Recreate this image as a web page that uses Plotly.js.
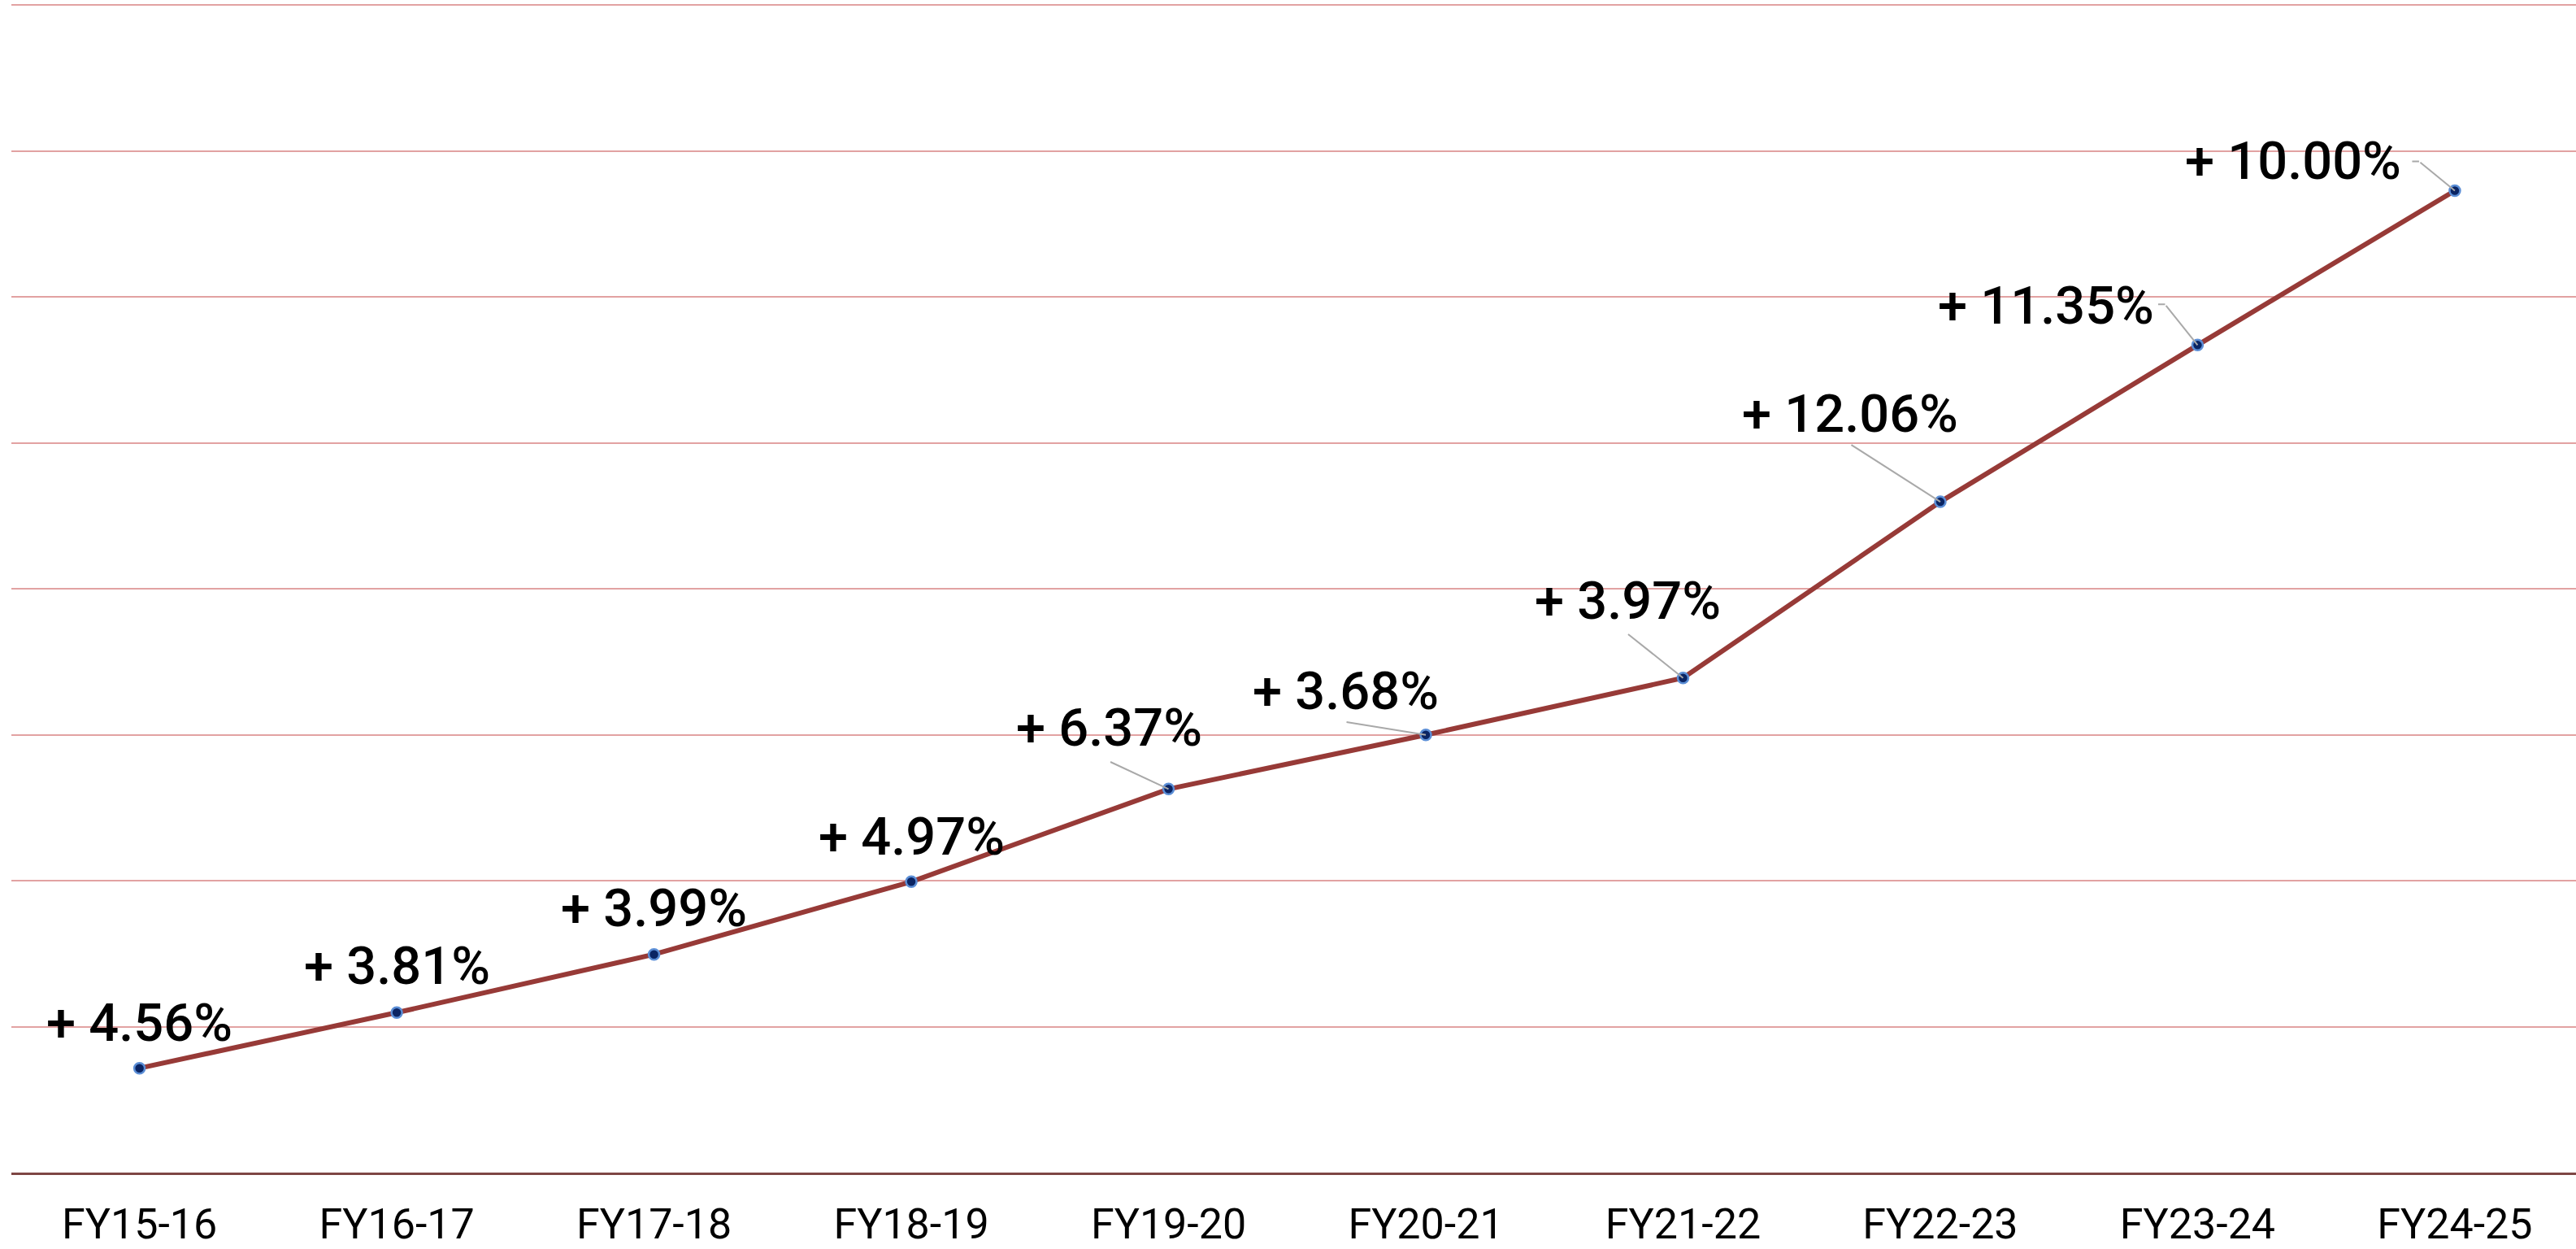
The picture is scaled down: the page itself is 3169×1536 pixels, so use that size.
<!DOCTYPE html>
<html>
<head>
<meta charset="utf-8">
<script src="https://cdn.plot.ly/plotly-3.0.1.min.js"></script>
<style>
  html, body { margin: 0; padding: 0; background: #ffffff; }
  #chart { width: 3169px; height: 1536px; }
</style>
</head>
<body>
<div id="chart"></div>
<script>
// Categories (fiscal years)
const years = ["FY15-16", "FY16-17", "FY17-18", "FY18-19", "FY19-20",
               "FY20-21", "FY21-22", "FY22-23", "FY23-24", "FY24-25"];
// Plotted level, in gridline units
const levels = [0.715, 1.096, 1.495, 1.993, 2.628, 2.999, 3.389, 4.596, 5.670, 6.728];
// Growth labels
const growthLabels = ["+ 4.56%", "+ 3.81%", "+ 3.99%", "+ 4.97%", "+ 6.37%",
                      "+ 3.68%", "+ 3.97%", "+ 12.06%", "+ 11.35%", "+ 10.00%"];

// label centre offsets (pixels) relative to the point
const labelDX = [0, 0, 0, 0, -73, -99, -68, -111, -186, -199];
const labelDY = [-56, -57, -57, -55, -75, -54, -95, -108, -48, -36];
// leader line start offsets (pixels) relative to the point; null = no leader
const leadDX = [null, null, null, null, -73, -99, -69, -111, -40, -44];
const leadDY = [null, null, null, null, -34, -16, -55, -71, -50, -36];
// short horizontal elbow length before the leader (pixels)
const elbowLen = [0, 0, 0, 0, 0, 0, 0, 0, 10, 10];

const labelFont = { family: 'Roboto, "Noto Sans", sans-serif', size: 65, color: '#000000', weight: 500 };
const annotations = [];
years.forEach((c, i) => {
  annotations.push({
    x: c, y: levels[i], xref: 'x', yref: 'y',
    text: growthLabels[i], font: labelFont,
    xanchor: 'center', yanchor: 'middle',
    showarrow: false, xshift: labelDX[i], yshift: -labelDY[i]
  });
  if (leadDX[i] !== null) {
    annotations.push({
      x: c, y: levels[i], xref: 'x', yref: 'y', text: '',
      showarrow: true, arrowhead: 0, arrowwidth: 2, arrowcolor: '#A9A9A9',
      ax: leadDX[i], ay: leadDY[i], standoff: 0, startstandoff: 0
    });
    if (elbowLen[i] > 0) {
      annotations.push({
        x: c, y: levels[i], xref: 'x', yref: 'y', text: '',
        xshift: leadDX[i], yshift: -leadDY[i],
        showarrow: true, arrowhead: 0, arrowwidth: 2, arrowcolor: '#A9A9A9',
        ax: -elbowLen[i], ay: 0, standoff: 0, startstandoff: 0
      });
    }
  }
});

const trace = {
  type: 'scatter', mode: 'lines+markers',
  x: years, y: levels,
  line: { color: '#973A37', width: 6 },
  marker: { size: 13, color: '#0A2463', line: { color: '#5B8ED6', width: 2.5 } },
  hoverinfo: 'skip', showlegend: false
};

const layout = {
  width: 3169, height: 1536,
  margin: { l: 14, r: 0, t: 4, b: 94, pad: 0 },
  paper_bgcolor: '#ffffff', plot_bgcolor: '#ffffff',
  showlegend: false,
  font: { family: 'Roboto, "Noto Sans", sans-serif', color: '#000000' },
  xaxis: {
    type: 'category',
    range: [-0.498, 9.471],
    showgrid: false, zeroline: false,
    showline: true, linecolor: '#7E4644', linewidth: 2.5,
    ticks: '', ticklabelstandoff: 16,
    tickfont: { family: 'Roboto, "Noto Sans", sans-serif', size: 52, color: '#000000' }
  },
  yaxis: {
    range: [0, 8.012], dtick: 1, tick0: 0,
    showgrid: true, gridcolor: '#E2A2A2', gridwidth: 2,
    zeroline: false, showticklabels: false, showline: false, ticks: ''
  },
  annotations: annotations
};

Plotly.newPlot('chart', [trace], layout, { staticPlot: true, displayModeBar: false });
</script>
</body>
</html>
